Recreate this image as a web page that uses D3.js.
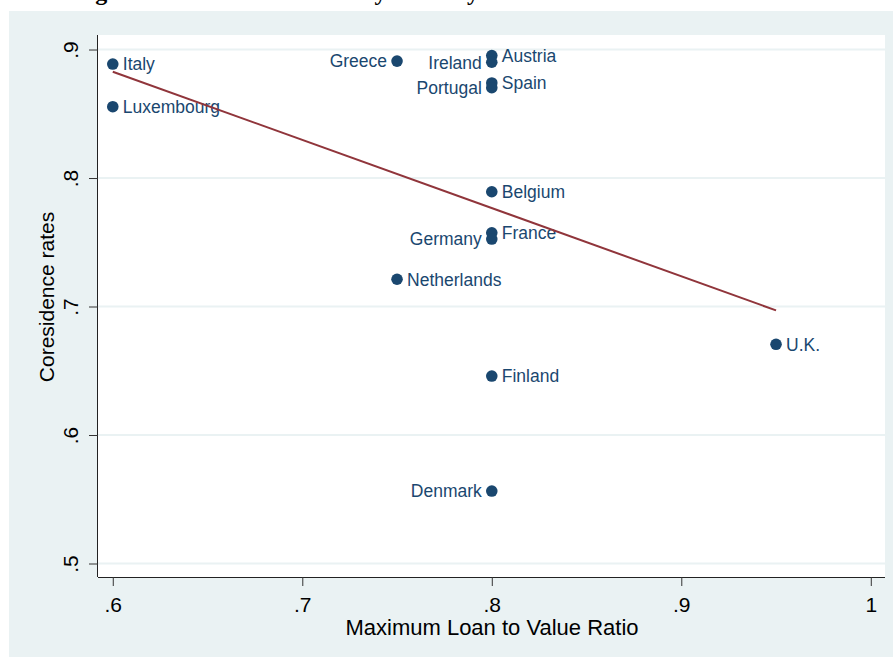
<!DOCTYPE html>
<html>
<head>
<meta charset="utf-8">
<script src="https://cdn.jsdelivr.net/npm/d3@7"></script>
<style>
  body { margin: 0; background: #fff; }
  svg { display: block; }
</style>
</head>
<body>
<div id="scatter"></div>
<script>
var svgWidth = 896;
var svgHeight = 657;

// data
var countries = ["Italy", "Luxembourg", "Greece", "Austria", "Ireland", "Spain", "Portugal",
  "Belgium", "France", "Germany", "Netherlands", "U.K.", "Finland", "Denmark"];
var ltv = [0.6, 0.6, 0.75, 0.8, 0.8, 0.8, 0.8, 0.8, 0.8, 0.8, 0.75, 0.95, 0.8, 0.8];
var coresidence = [0.8887, 0.8555, 0.891, 0.8953, 0.8901, 0.8740, 0.8703,
  0.7893, 0.7574, 0.7525, 0.7212, 0.6706, 0.6459, 0.5564];
// label side: 3 = right of marker, 9 = left of marker
var labelPos = [3, 3, 9, 3, 9, 3, 9, 3, 3, 9, 3, 3, 3, 9];
var xTicks = [0.6, 0.7, 0.8, 0.9, 1];
var yTicks = [0.5, 0.6, 0.7, 0.8, 0.9];

var data = countries.map((c, i) => ({ name: c, x: ltv[i], y: coresidence[i], pos: labelPos[i] }));

var plot = { left: 98, right: 885, top: 35, bottom: 577 };
var navy = "#1a476f";
var maroon = "#90353b";
var bg = "#eaf2f3";

var svg = d3.select("#scatter")
  .append("svg")
    .attr("width", svgWidth)
    .attr("height", svgHeight);

// caption above the graph, cropped by the top edge in the source
svg.append("text")
  .attr("x", 74)
  .attr("y", 0)
  .attr("font-family", "Liberation Serif, serif")
  .attr("font-weight", "bold")
  .attr("font-size", "24px")
  .text("Figure 4: Coresidence rates by Country");

svg.append("rect")
  .attr("x", 9).attr("y", 11)
  .attr("width", 884).attr("height", svgHeight - 11)
  .attr("fill", bg);

svg.append("rect")
  .attr("x", plot.left).attr("y", plot.top)
  .attr("width", plot.right - plot.left).attr("height", plot.bottom - plot.top)
  .attr("fill", "#fff");

var xScale = d3.scaleLinear()
  .domain([0.5922, 1.0075])
  .range([plot.left, plot.right]);
var yScale = d3.scaleLinear()
  .domain([0.4895, 0.9113])
  .range([plot.bottom, plot.top]);

var fmt = v => v === 1 ? "1" : d3.format(".1f")(v).replace(/^0/, "");

// horizontal grid
svg.append("g")
  .selectAll("line")
  .data(yTicks)
  .enter()
  .append("line")
    .attr("x1", plot.left)
    .attr("x2", plot.right)
    .attr("y1", d => yScale(d))
    .attr("y2", d => yScale(d))
    .attr("stroke", bg)
    .attr("stroke-width", 2);

// axes
var bottomAxis = d3.axisBottom(xScale).tickValues(xTicks).tickSize(9).tickFormat(fmt);
var leftAxis = d3.axisLeft(yScale).tickValues(yTicks).tickSize(9).tickFormat(fmt);

var xAxisG = svg.append("g")
  .attr("transform", `translate(0, ${plot.bottom})`)
  .call(bottomAxis);
xAxisG.select(".domain").attr("d", `M${plot.left},0.5H${plot.right}`).attr("stroke", "#222");
xAxisG.selectAll(".tick line").attr("stroke", "#333");
xAxisG.selectAll(".tick text")
  .attr("y", 35)
  .attr("dy", 0)
  .attr("fill", "#000")
  .attr("font-family", "Liberation Sans, Arial, sans-serif")
  .attr("font-size", "21px");

var yAxisG = svg.append("g")
  .attr("transform", `translate(${plot.left}, 0)`)
  .call(leftAxis);
yAxisG.select(".domain").attr("d", `M-0.5,${plot.top}V${plot.bottom}`).attr("stroke", "#222");
yAxisG.selectAll(".tick line").attr("stroke", "#333");
yAxisG.selectAll(".tick text")
  .attr("x", null)
  .attr("dy", 0)
  .attr("transform", "translate(-20,0) rotate(-90)")
  .attr("text-anchor", "middle")
  .attr("fill", "#000")
  .attr("font-family", "Liberation Sans, Arial, sans-serif")
  .attr("font-size", "21px");

// axis titles
svg.append("text")
  .attr("x", 492)
  .attr("y", 635)
  .attr("text-anchor", "middle")
  .attr("font-family", "Liberation Sans, Arial, sans-serif")
  .attr("font-size", "22px")
  .text("Maximum Loan to Value Ratio");

svg.append("text")
  .attr("transform", "translate(54, 297) rotate(-90)")
  .attr("text-anchor", "middle")
  .attr("font-family", "Liberation Sans, Arial, sans-serif")
  .attr("font-size", "21px")
  .text("Coresidence rates");

// points
var pts = svg.append("g");
pts.selectAll("circle")
  .data(data)
  .enter()
  .append("circle")
    .attr("cx", d => xScale(d.x))
    .attr("cy", d => yScale(d.y))
    .attr("r", 5.8)
    .attr("fill", navy);

pts.selectAll("text")
  .data(data)
  .enter()
  .append("text")
    .text(d => d.name)
    .attr("x", d => xScale(d.x) + (d.pos === 3 ? 10 : -10))
    .attr("y", d => yScale(d.y))
    .attr("dy", "0.36em")
    .attr("text-anchor", d => d.pos === 3 ? "start" : "end")
    .attr("font-family", "Liberation Sans, Arial, sans-serif")
    .attr("font-size", "17.5px")
    .attr("fill", navy);

// linear fit (least squares) drawn over the data range
var mx = d3.mean(data, d => d.x);
var my = d3.mean(data, d => d.y);
var sxy = d3.sum(data, d => (d.x - mx) * (d.y - my));
var sxx = d3.sum(data, d => (d.x - mx) * (d.x - mx));
var slope = sxy / sxx;
var icpt = my - slope * mx;
var xr = d3.extent(data, d => d.x);

svg.append("line")
  .attr("x1", xScale(xr[0]))
  .attr("y1", yScale(icpt + slope * xr[0]))
  .attr("x2", xScale(xr[1]))
  .attr("y2", yScale(icpt + slope * xr[1]))
  .attr("stroke", maroon)
  .attr("stroke-width", 2);
</script>
</body>
</html>
